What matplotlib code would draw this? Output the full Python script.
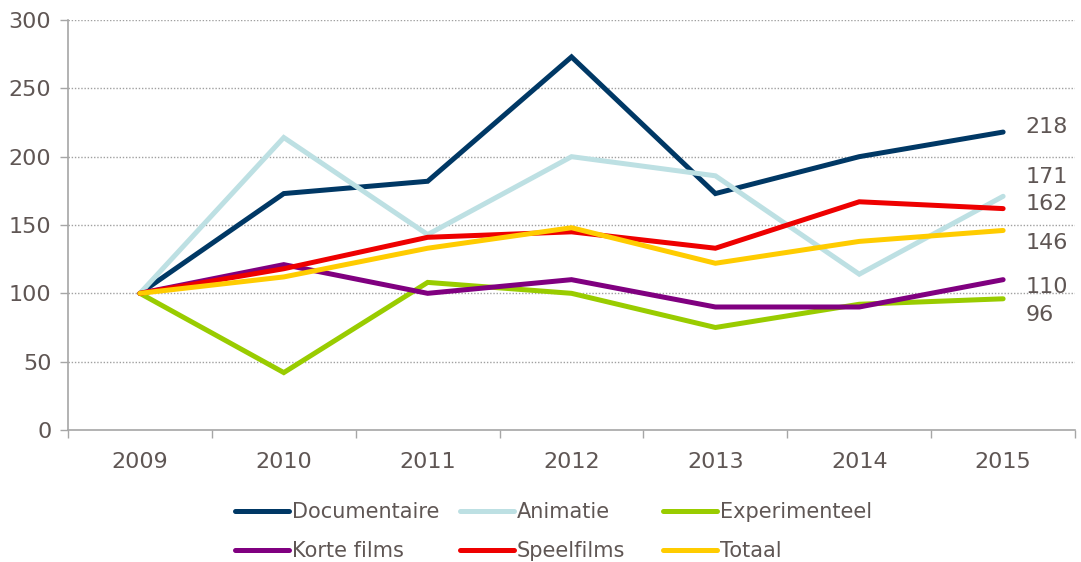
import matplotlib.pyplot as plt
from matplotlib.ticker import MultipleLocator

years = ["2009", "2010", "2011", "2012", "2013", "2014", "2015"]
documentaire = [100, 173, 182, 273, 173, 200, 218]
animatie = [100, 214, 143, 200, 186, 114, 171]
experimenteel = [100, 42, 108, 100, 75, 92, 96]
korte_films = [100, 121, 100, 110, 90, 90, 110]
speelfilms = [100, 118, 141, 145, 133, 167, 162]
totaal = [100, 112, 133, 148, 122, 138, 146]

series = [
    ("Documentaire", documentaire, "#003865", 3.6),
    ("Animatie", animatie, "#bde0e3", 14),
    ("Experimenteel", experimenteel, "#99cc00", -12),
    ("Korte films", korte_films, "#800080", -5),
    ("Speelfilms", speelfilms, "#ee0000", 3.6),
    ("Totaal", totaal, "#ffcc00", -9),
]
text_color = "#5f5654"
axis_color = "#a6a6a6"

fig = plt.figure(figsize=(10.81, 5.62), dpi=100)
ax = fig.add_axes([0.0629, 0.2349, 0.9316, 0.7295])

x = list(range(len(years)))
lines = {}
for name, vals, color, dy in series:
    ln, = ax.plot(x, vals, color=color, lw=3.6, solid_capstyle="round",
                  solid_joinstyle="miter", label=name, zorder=3)
    lines[name] = ln
    # end labels, nudged so they don't overlap
    ax.annotate(str(vals[-1]), xy=(x[-1], vals[-1]), xytext=(16, dy),
                textcoords="offset points", va="center", ha="left",
                fontsize=16, color=text_color)

ax.set_xlim(-0.5, 6.5)
ax.set_ylim(0, 300)
ax.yaxis.set_major_locator(MultipleLocator(50))
ax.set_xticks(x)
ax.set_xticklabels(years)
ax.set_xticks([i - 0.5 for i in range(len(years) + 1)], minor=True)
ax.tick_params(axis="x", which="major", length=0, pad=16, labelsize=16, labelcolor=text_color)
ax.tick_params(axis="x", which="minor", length=6, width=1, color=axis_color, direction="out")
ax.tick_params(axis="y", length=6, width=1, color=axis_color, pad=6, labelsize=16, labelcolor=text_color)

for v in range(50, 301, 50):
    ax.axhline(v, color="#a0a0a0", lw=1, ls=(0, (1, 1.3)), zorder=1)

for s in ["top", "right"]:
    ax.spines[s].set_visible(False)
for s in ["left", "bottom"]:
    ax.spines[s].set_color(axis_color)
    ax.spines[s].set_linewidth(1.2)

# one legend per column so the columns sit where the reference has them
columns = [["Documentaire", "Korte films"], ["Animatie", "Speelfilms"], ["Experimenteel", "Totaal"]]
col_x = [235, 460, 663]
for names, cx in zip(columns, col_x):
    leg = fig.legend([lines[n] for n in names], names, loc="upper left",
                     bbox_to_anchor=(cx / 1081, 1 - 502 / 562), frameon=False,
                     fontsize=15, handlelength=2.6, handletextpad=0.12,
                     labelspacing=0.92, borderpad=0, borderaxespad=0,
                     labelcolor=text_color)

fig.savefig("out.png", dpi=100)
